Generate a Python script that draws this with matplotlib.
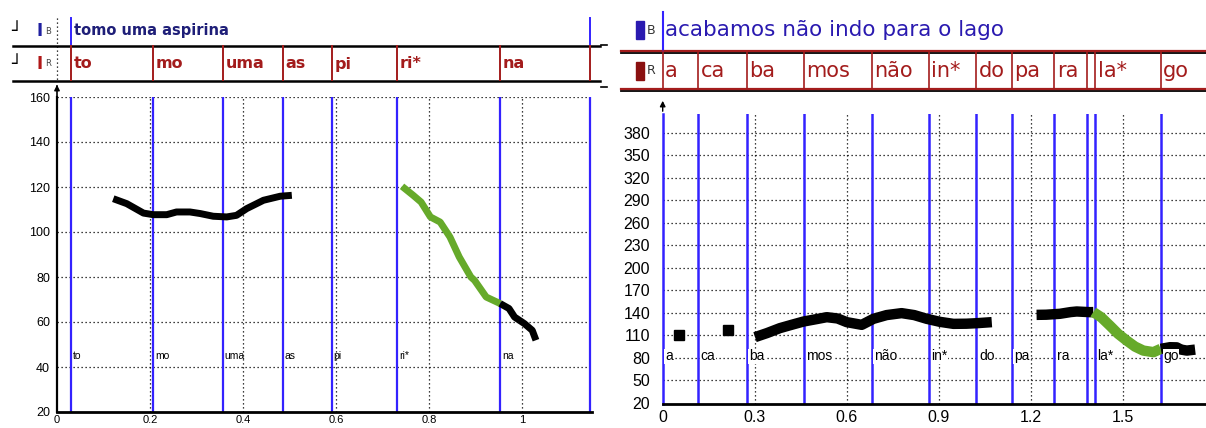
import matplotlib
matplotlib.use("Agg")
import matplotlib.pyplot as plt
from matplotlib.patches import Rectangle

W, H = 1206, 428

# ---------------- data: left panel ----------------
left_phrase = "tomo uma aspirina"
left_syllables = ["to", "mo", "uma", "as", "pi", "ri*", "na"]
left_bounds = [0.030, 0.207, 0.357, 0.485, 0.591, 0.731, 0.953, 1.146]
left_xticks = [0, 0.2, 0.4, 0.6, 0.8, 1.0]
left_xticklabels = ["0", "0.2", "0.4", "0.6", "0.8", "1"]
left_yticks = [20, 40, 60, 80, 100, 120, 140, 160]

left_black_x = [0.121, 0.150, 0.186, 0.207, 0.236, 0.257, 0.286, 0.308, 0.336, 0.365, 0.386, 0.408, 0.444, 0.480, 0.505]
left_black_y = [114.8, 112.6, 108.4, 107.7, 107.7, 108.9, 108.9, 108.2, 107.0, 106.7, 107.4, 110.4, 114.1, 115.9, 116.3]
left_green_x = [0.742, 0.766, 0.783, 0.803, 0.824, 0.845, 0.865, 0.890, 0.898, 0.923, 0.953]
left_green_y = [120.3, 116.3, 113.3, 106.7, 104.4, 97.8, 88.9, 80.0, 78.5, 71.1, 68.2]
left_tail_x = [0.953, 0.972, 0.984, 1.005, 1.022, 1.030]
left_tail_y = [68.2, 66.0, 62.2, 59.3, 56.3, 51.9]

# ---------------- data: right panel ----------------
right_phrase = "acabamos não indo para o lago"
right_syllables = ["a", "ca", "ba", "mos", "não", "in*", "do", "pa", "ra", "", "la*", "go"]
right_bounds = [0.0, 0.116, 0.274, 0.461, 0.681, 0.868, 1.023, 1.138, 1.277, 1.382, 1.410, 1.624, 1.80]
right_xticks = [0, 0.3, 0.6, 0.9, 1.2, 1.5]
right_xticklabels = ["0", "0.3", "0.6", "0.9", "1.2", "1.5"]
right_yticks = [20, 50, 80, 110, 140, 170, 200, 230, 260, 290, 320, 350, 380]

right_square_x = [0.054, 0.214]
right_square_y = [110.7, 117.7]
right_black1_x = [0.301, 0.340, 0.382, 0.420, 0.459, 0.500, 0.535, 0.570, 0.600, 0.649, 0.687, 0.730, 0.779, 0.820, 0.861, 0.904, 0.948, 0.990, 1.024, 1.073]
right_black1_y = [107.6, 113.0, 119.6, 124.0, 128.4, 131.5, 134.2, 132.5, 127.6, 124.0, 132.0, 137.0, 139.6, 137.0, 132.0, 128.0, 125.3, 125.5, 126.2, 127.6]
right_black2_x = [1.219, 1.250, 1.295, 1.330, 1.350, 1.393, 1.404]
right_black2_y = [137.3, 137.5, 138.7, 141.0, 141.8, 140.9, 141.0]
right_green_x = [1.404, 1.430, 1.458, 1.485, 1.513, 1.540, 1.567, 1.600, 1.624]
right_green_y = [141.0, 134.0, 123.0, 112.0, 103.0, 95.0, 89.7, 87.6, 92.0]
right_tail_x = [1.624, 1.654, 1.676, 1.690, 1.709, 1.736]
right_tail_y = [92.0, 94.2, 94.0, 91.0, 89.7, 91.0]

# ---------------- styles ----------------
BLUE = "#3322ff"
GREEN = "#66aa2a"
DRED = "#a31c1c"
NAVY = "#1e1e78"
TBLUE = "#2a1ab0"
NARROW = ["Liberation Sans Narrow", "Liberation Sans", "DejaVu Sans"]
DOT = (0, (1.0, 2.2))

fig = plt.figure(figsize=(W / 100, H / 100), dpi=100)
fig.patch.set_facecolor("white")


def rect(x0, y0, x1, y1):
    return [x0 / W, 1 - y1 / H, (x1 - x0) / W, (y1 - y0) / H]


# ======== LEFT PANEL ========
lx0, lscale = 57.0, 465.0
axL = fig.add_axes(rect(57, 97, 592, 412))
axL.set_xlim(0, (592 - lx0) / lscale)
axL.set_ylim(20, 160)
for s in ["top", "right"]:
    axL.spines[s].set_visible(False)
axL.spines["left"].set_linewidth(1.6)
axL.spines["bottom"].set_linewidth(2.0)
axL.set_xticks(left_xticks)
axL.set_xticklabels(left_xticklabels)
axL.set_yticks(left_yticks)
axL.tick_params(length=0, labelsize=9)
axL.tick_params(axis="y", pad=5)
axL.tick_params(axis="x", pad=2, labelsize=8)
for lab in axL.get_xticklabels() + axL.get_yticklabels():
    lab.set_family(NARROW)
for y in left_yticks[1:]:
    axL.axhline(y, color="black", lw=0.9, ls=DOT, zorder=1)
for x in left_xticks[1:]:
    axL.axvline(x, color="black", lw=0.9, ls=DOT, zorder=1)
for b in left_bounds:
    axL.axvline(b, color=BLUE, lw=1.6, zorder=2)
axL.plot(left_black_x, left_black_y, color="black", lw=5, solid_capstyle="butt", zorder=4)
axL.plot(left_green_x, left_green_y, color=GREEN, lw=5, solid_capstyle="butt", zorder=4)
axL.plot(left_tail_x, left_tail_y, color="black", lw=5, solid_capstyle="butt", zorder=4)
for b, s in zip(left_bounds[:-1], left_syllables):
    axL.text(b + 0.004, 45, s, fontsize=7.5, family=NARROW, ha="left", va="center", zorder=5)

# left header
hL = fig.add_axes(rect(13, 14, 600, 81))
hL.set_xlim((13 - lx0) / lscale, (600 - lx0) / lscale)
hL.set_ylim(81, 14)
hL.axis("off")
hL.plot([(13 - lx0) / lscale, (600 - lx0) / lscale], [46, 46], color="black", lw=1.8, clip_on=False)
hL.plot([(13 - lx0) / lscale, (600 - lx0) / lscale], [80.5, 80.5], color="black", lw=1.8, clip_on=False)
hL.plot([left_bounds[0]] * 2, [18, 46], color=BLUE, lw=1.4)
hL.plot([left_bounds[-1]] * 2, [18, 46], color=BLUE, lw=1.4)
for b in left_bounds:
    hL.plot([b, b], [46, 80.5], color=DRED, lw=1.4)
hL.plot([0, 0], [18, 80], color="black", lw=0.9, ls=DOT)
hL.text(left_bounds[0] + 0.006, 31, left_phrase, color=NAVY, fontsize=10.5, weight="bold",
        ha="left", va="center")
for b, s in zip(left_bounds[:-1], left_syllables):
    hL.text(b + 0.006, 64, s, color=DRED, fontsize=11.5, weight="bold", ha="left", va="center")
# tier icons
for yc, col, letter in [(31, "#2020a0", "B"), (64, "#b01818", "R")]:
    xx = (16 - lx0) / lscale
    hL.text(xx, yc, "┘", fontsize=12, ha="center", va="center", color="black")
    hL.text((40 - lx0) / lscale, yc, "I", fontsize=12, weight="bold", ha="center", va="center", color=col)
    hL.text((48 - lx0) / lscale, yc, letter, fontsize=6, ha="center", va="center", color="#444444")

fig.add_artist(plt.Line2D([57 / W, 57 / W], [1 - 98 / H, 1 - 86 / H], color="black", lw=1.2))
axL.annotate("", xy=(57, H - 82), xytext=(57, H - 92), xycoords="figure pixels",
             textcoords="figure pixels",
             arrowprops=dict(arrowstyle="-|>", color="black", lw=1.0, mutation_scale=8))

# ======== RIGHT PANEL ========
rx0, rscale = 662.7, 306.7
axR = fig.add_axes(rect(662.7, 114, 1206, 404))
axR.set_xlim(0, (1206 - rx0) / rscale)
axR.set_ylim(18.5, 405)
for s in ["top", "right"]:
    axR.spines[s].set_visible(False)
axR.spines["left"].set_color(BLUE)
axR.spines["left"].set_linewidth(1.8)
axR.spines["bottom"].set_linewidth(2.0)
axR.set_xticks(right_xticks)
axR.set_xticklabels(right_xticklabels)
axR.set_yticks(right_yticks)
axR.tick_params(length=0, labelsize=11.5)
axR.tick_params(axis="y", pad=9)
axR.tick_params(axis="x", pad=4)
for lab in axR.get_xticklabels() + axR.get_yticklabels():
    lab.set_family(NARROW)
for y in right_yticks[1:]:
    axR.axhline(y, color="black", lw=0.9, ls=DOT, zorder=1)
for x in right_xticks[1:]:
    axR.axvline(x, color="black", lw=0.9, ls=DOT, zorder=1)
for b in right_bounds[1:]:
    axR.axvline(b, color=BLUE, lw=1.8, zorder=2)
axR.plot(right_square_x, right_square_y, "s", color="black", markersize=7.5, zorder=4)
axR.plot(right_black1_x, right_black1_y, color="black", lw=7.5, solid_capstyle="butt", zorder=4)
axR.plot(right_black2_x, right_black2_y, color="black", lw=7.5, solid_capstyle="butt", zorder=4)
axR.plot(right_green_x, right_green_y, color=GREEN, lw=7.5, solid_capstyle="butt", zorder=4)
axR.plot(right_tail_x, right_tail_y, color="black", lw=7.5, solid_capstyle="butt", zorder=4)
for b, s in zip(right_bounds[:-1], right_syllables):
    if s:
        axR.text(b + 0.008, 82, s, fontsize=10, family=NARROW, ha="left", va="center", zorder=5,
                 bbox=dict(facecolor="white", edgecolor="none", pad=0.5))

# right header
hR = fig.add_axes(rect(621, 8, 1206, 92))
hR.set_xlim((621 - rx0) / rscale, (1206 - rx0) / rscale)
hR.set_ylim(92, 8)
hR.axis("off")
xa, xb = (621 - rx0) / rscale, (1206 - rx0) / rscale
for yl in (51, 89):
    hR.plot([xa, xb], [yl + 1.8, yl + 1.8], color="black", lw=1.3, clip_on=False)
    hR.plot([xa, xb], [yl, yl], color=DRED, lw=1.6, clip_on=False)
hR.plot([0, 0], [12, 51], color=BLUE, lw=1.5)
for b in right_bounds[:-1]:
    hR.plot([b, b], [51, 89], color=DRED, lw=1.2)
hR.text(0.008, 30, right_phrase, color=TBLUE, fontsize=15.5, ha="left", va="center")
for b, s in zip(right_bounds[:-1], right_syllables):
    if s:
        hR.text(b + 0.008, 71, s, color=DRED, fontsize=15, ha="left", va="center")
for yc, col, letter in [(30, "#2a1ab0", "B"), (71, "#8a1010", "R")]:
    hR.add_patch(Rectangle(((636 - rx0) / rscale, yc - 9), 8 / rscale, 18, color=col))
    hR.text((651 - rx0) / rscale, yc, letter, fontsize=9, ha="center", va="center", color="#333333")
for yc in (45, 87):
    hR.plot([(601 - rx0) / rscale, (607 - rx0) / rscale], [yc, yc], color="black", lw=1.2, clip_on=False)

axR.annotate("", xy=(662.7, H - 98), xytext=(662.7, H - 114), xycoords="figure pixels",
             textcoords="figure pixels",
             arrowprops=dict(arrowstyle="-|>", color="black", lw=1.0, mutation_scale=8))

fig.savefig("out.png", dpi=100, facecolor="white")
